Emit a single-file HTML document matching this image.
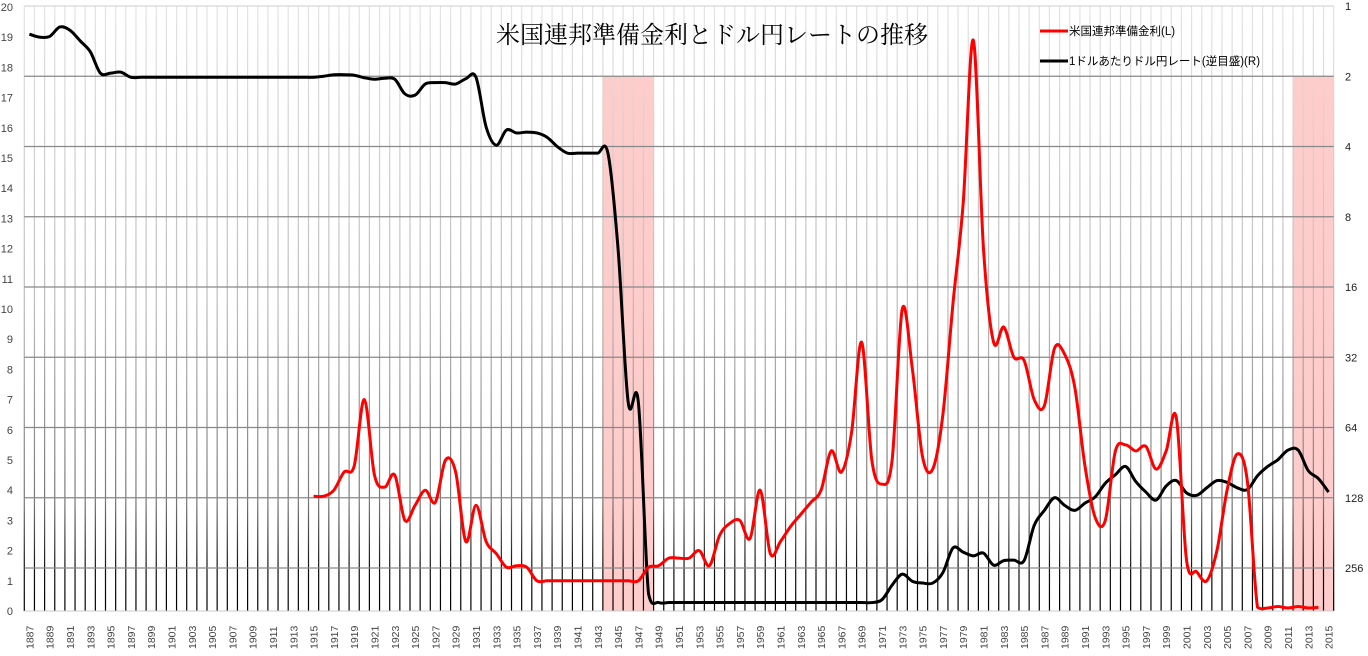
<!DOCTYPE html>
<html><head><meta charset="utf-8"><style>
body{margin:0;background:#fff;}
svg{display:block;font-family:"Liberation Sans","Noto Sans CJK JP",sans-serif;}
</style></head><body>
<svg id="chart" width="1368" height="656" viewBox="0 0 1368 656" xmlns="http://www.w3.org/2000/svg">
<defs><linearGradient id="vg" gradientUnits="userSpaceOnUse" x1="0" y1="6" x2="0" y2="611">
<stop offset="0" stop-color="#e4e4e4"/><stop offset="0.5" stop-color="#bbbbbb"/><stop offset="0.82" stop-color="#777"/><stop offset="0.93" stop-color="#111"/><stop offset="1" stop-color="#000"/></linearGradient></defs>
<g id="shade"></g>
<g id="grid"></g>
<g id="series"></g>
<g id="axes"></g>
<text x="712" y="43" text-anchor="middle" font-family="'Liberation Serif','Noto Serif CJK SC',serif" font-size="24" fill="#000">米国連邦準備金利とドル円レートの推移</text>
<g>
<g><line x1="1040" y1="31" x2="1068" y2="31" stroke="#f00" stroke-width="3"/><text x="1069" y="35" font-size="11.5">米国連邦準備金利(L)</text></g>
<g><line x1="1040" y1="61" x2="1068" y2="61" stroke="#000" stroke-width="3"/><text x="1069" y="65" font-size="11.5">1ドルあたりドル円レート(逆目盛)(R)</text></g>
</g>
</svg>
<script>
const startYear = 1887;
const years = Array.from({length:129},(_,i)=>1887+i);
const fedYears = [1915,1916,1917,1918,1919,1920,1921,1922,1923,1924,1925,1926,1927,1928,1929,1930,1931,1932,1933,1934,1935,1936,1937,1938,1939,1940,1941,1942,1943,1944,1945,1946,1947,1948,1949,1950,1951,1952,1953,1954,1955,1956,1957,1958,1959,1960,1961,1962,1963,1964,1965,1966,1967,1968,1969,1970,1971,1972,1973,1974,1975,1976,1977,1978,1979,1980,1981,1982,1983,1984,1985,1986,1987,1988,1989,1990,1991,1992,1993,1994,1995,1996,1997,1998,1999,2000,2001,2002,2003,2004,2005,2006,2007,2008,2009,2010,2011,2012,2013,2014];
const fedRate = [3.8,3.8,4.0,4.6,4.8,7.0,4.5,4.1,4.5,3.0,3.5,4.0,3.6,5.0,4.6,2.3,3.5,2.3,1.9,1.45,1.5,1.45,1.0,1.0,1.0,1.0,1.0,1.0,1.0,1.0,1.0,1.0,1.0,1.45,1.5,1.75,1.75,1.75,2.0,1.5,2.5,2.9,3.0,2.4,4.0,1.9,2.3,2.8,3.2,3.6,4.0,5.3,4.6,5.9,8.9,5.0,4.2,5.0,10.0,8.0,5.1,4.7,6.5,10.2,13.5,18.9,12.0,8.9,9.4,8.4,8.3,7.0,6.8,8.7,8.5,7.4,4.8,3.1,3.0,5.3,5.5,5.3,5.45,4.7,5.3,6.4,1.7,1.3,1.0,2.0,4.0,5.2,4.3,0.12,0.1,0.15,0.1,0.15,0.1,0.12];
const yenRate = [
1.32,1.36,1.35,1.23,1.27,1.41,1.57,1.94,1.94,1.92,
2.02,2.02,2.02,2.02,2.02,2.02,2.02,2.02,2.02,2.02,
2.02,2.02,2.02,2.02,2.02,2.02,2.02,2.02,2.02,2.0,
1.97,1.97,1.98,2.03,2.06,2.04,2.06,2.38,2.41,2.16,
2.13,2.13,2.16,2.05,2.02,3.3,3.95,3.4,3.5,3.47,
3.5,3.65,4.0,4.27,4.27,4.27,4.27,4.27,11,50,
50,330,360,360,360,360,360,360,360,360,
360,360,360,360,360,360,360,360,360,360,
360,360,360,360,350,303,272,292,297,297,
268,210,219,227,221,249,238,237,238,168,
145,128,138,145,135,127,111,102,94,109,
121,131,114,108,122,125,116,108,110,116,
118,103,94,88,80,80,98,106,121];
const leftTicks = [0,1,2,3,4,5,6,7,8,9,10,11,12,13,14,15,16,17,18,19,20];
const rightTicks = [1,2,4,8,16,32,64,128,256];
const shadeRanges = [[1944,1948],[2012,2015]];

const NS="http://www.w3.org/2000/svg";
const X0=24.3, YW=10.15, Y0=611, YS=30.2, RTOP=6, RD=70.25;
const xBand = y => X0 + (y-startYear)*YW;
const xC = y => xBand(y)+YW/2;
const yL = v => Y0 - v*YS;
const yR = v => RTOP + RD*Math.log2(v);
function mk(tag, attrs, parent){const e=document.createElementNS(NS,tag);for(const k in attrs)e.setAttribute(k,attrs[k]);parent.appendChild(e);return e;}
const gS=document.getElementById('shade'), gG=document.getElementById('grid'), gSe=document.getElementById('series'), gA=document.getElementById('axes');
const xEnd = xBand(startYear+years.length);

shadeRanges.forEach(r=>{
  const e=mk('rect',{x:xBand(r[0]),y:yR(2),width:Math.min(xBand(r[1]+1),xEnd)-xBand(r[0]),height:Y0-yR(2),fill:'#ffcccc'},gS);
  
  
});
for(let i=0;i<=years.length;i++){
  const x=X0+i*YW;
  const e=mk('line',{x1:x,y1:RTOP,x2:x,y2:Y0,stroke:'url(#vg)','stroke-width':1.2},gG);
  
  
}
mk('line',{x1:X0,y1:RTOP,x2:xEnd,y2:RTOP,stroke:'#ccc'},gG);
rightTicks.forEach(t=>{
  const y=yR(t);
  if(t>1){const e=mk('line',{x1:X0,y1:y,x2:xEnd,y2:y,stroke:'#888','stroke-width':1.2},gG);
  
  }
  const tx=mk('text',{x:1345,y:y+4,'font-size':11,fill:'#222'},gA);tx.textContent=t;
  
  
});
mk('line',{x1:X0,y1:Y0,x2:xEnd,y2:Y0,stroke:'#ccc','stroke-width':1},gA);
leftTicks.forEach(t=>{
  const tx=mk('text',{x:13,y:yL(t)+4,'font-size':11,'text-anchor':'end',fill:'#444'},gA);tx.textContent=t;
  
  
});
years.forEach((yr,i)=>{
  if(i%2) return;
  const x=xC(yr)+4,y=649;
  const tx=mk('text',{x:x,y:y,'font-size':10.5,fill:'#444',transform:`rotate(-90 ${x} ${y})`},gA);tx.textContent=yr;
  
  
});
function smooth(pts){
  const cl=v=>Math.min(Y0-1,Math.max(RTOP,v));
  let d=`M${pts[0][0]},${pts[0][1]}`;
  for(let i=0;i<pts.length-1;i++){
    const p0=pts[Math.max(0,i-1)],p1=pts[i],p2=pts[i+1],p3=pts[Math.min(pts.length-1,i+2)];
    const t=1/6;
    d+=` C${p1[0]+(p2[0]-p0[0])*t},${cl(p1[1]+(p2[1]-p0[1])*t)} ${p2[0]-(p3[0]-p1[0])*t},${cl(p2[1]-(p3[1]-p1[1])*t)} ${p2[0]},${p2[1]}`;
  }
  return d;
}
const yenPath=mk('path',{d:smooth(years.map((y,i)=>[xC(y),yR(yenRate[i])])),fill:'none',stroke:'#000','stroke-width':3,'stroke-linejoin':'round'},gSe);


const fedPath=mk('path',{d:smooth(fedYears.map((y,i)=>[xC(y),yL(fedRate[i])])),fill:'none',stroke:'#f00','stroke-width':3,'stroke-linejoin':'round'},gSe);


</script>
</body></html>
